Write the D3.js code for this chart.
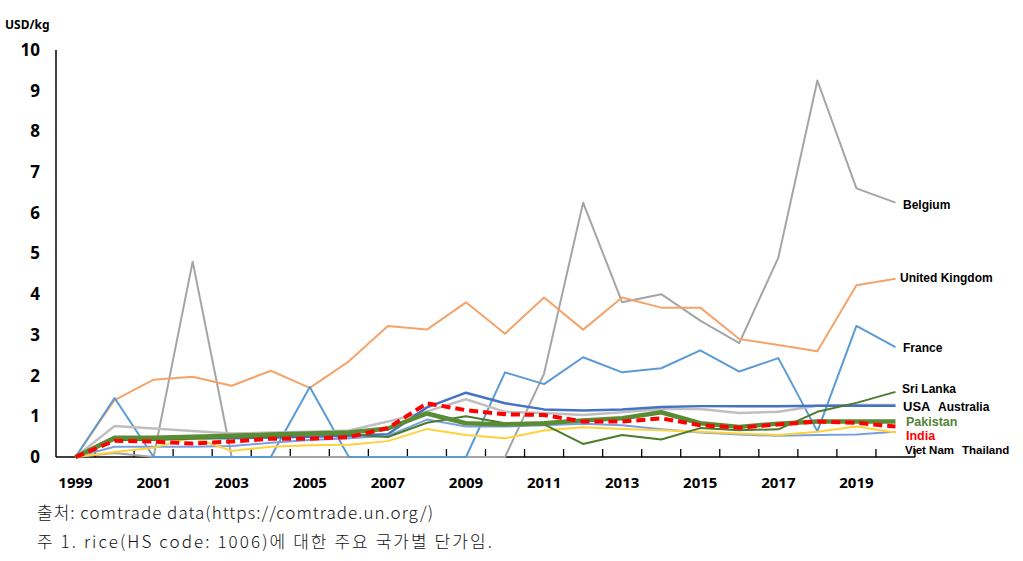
<!DOCTYPE html>
<html>
<head>
<meta charset="utf-8">
<script src="https://cdn.jsdelivr.net/npm/d3@7"></script>
<style>
  body { margin: 0; background: #fff; }
  svg { display: block; }
  .axis-label { font-family: "Noto Sans", "DejaVu Sans", sans-serif; font-weight: bold; fill: #000; }
  .series-label { font-family: "Liberation Sans", Arial, sans-serif; font-weight: bold; }
  .note { font-family: "Noto Sans CJK KR", "DejaVu Sans", sans-serif; font-size: 17px; font-weight: 300; fill: #111; }
</style>
</head>
<body>
<svg id="chart" width="1023" height="561"></svg>
<script>
const years = [1999, 2000, 2001, 2002, 2003, 2004, 2005, 2006, 2007, 2008, 2009, 2010,
  2011, 2012, 2013, 2014, 2015, 2016, 2017, 2018, 2019, 2020];
const yTicks = [0, 1, 2, 3, 4, 5, 6, 7, 8, 9, 10];

const belgium = [0, 0.1, 0, 4.8, 0, 0, 0, 0, 0, 0, 0, 0, 2.05, 6.25, 3.8, 4.0, 3.35, 2.8, 4.9, 9.25, 6.6, 6.25];
const uk = [0, 1.4, 1.9, 1.97, 1.75, 2.12, 1.7, 2.35, 3.22, 3.13, 3.8, 3.03, 3.92, 3.13, 3.92, 3.67, 3.67, 2.9, 2.75, 2.6, 4.22, 4.38];
const france = [0, 1.45, 0, 0, 0, 0, 1.72, 0, 0, 0, 0, 2.08, 1.79, 2.45, 2.08, 2.18, 2.62, 2.1, 2.43, 0.63, 3.22, 2.7];
const australia = [0, 0.76, 0.7, 0.64, 0.58, 0.6, 0.62, 0.65, 0.87, 1.12, 1.42, 1.11, 1.08, 1.03, 1.1, 1.18, 1.18, 1.08, 1.11, 1.26, 1.28, 1.28];
const usa = [0, 0.48, 0.46, 0.46, 0.46, 0.48, 0.5, 0.52, 0.56, 1.22, 1.58, 1.32, 1.17, 1.14, 1.17, 1.23, 1.25, 1.25, 1.25, 1.26, 1.26, 1.26];
const vietnam = [0, 0.25, 0.25, 0.25, 0.27, 0.35, 0.42, 0.46, 0.52, 0.92, 0.75, 0.75, 0.78, 0.82, 0.78, 0.68, 0.6, 0.55, 0.52, 0.54, 0.55, 0.62];
const thailand = [0, 0.12, 0.23, 0.48, 0.15, 0.25, 0.29, 0.3, 0.39, 0.69, 0.54, 0.46, 0.65, 0.73, 0.69, 0.66, 0.62, 0.58, 0.54, 0.62, 0.75, 0.6];
const srilanka = [0, 0.42, 0.42, 0.45, 0.48, 0.5, 0.55, 0.55, 0.49, 0.84, 1.0, 0.83, 0.8, 0.32, 0.54, 0.43, 0.71, 0.66, 0.68, 1.11, 1.33, 1.6];
const pakistan = [0, 0.47, 0.47, 0.5, 0.52, 0.55, 0.58, 0.6, 0.7, 1.07, 0.83, 0.8, 0.83, 0.9, 0.95, 1.1, 0.83, 0.74, 0.82, 0.87, 0.87, 0.87];
const india = [0, 0.4, 0.38, 0.33, 0.38, 0.45, 0.45, 0.49, 0.71, 1.32, 1.15, 1.05, 1.03, 0.87, 0.87, 0.95, 0.78, 0.72, 0.8, 0.87, 0.84, 0.75];

// draw order = excel series order
const series = [
  { name: 'Belgium', values: belgium, color: '#A5A5A5', width: 2 },
  { name: 'United Kingdom', values: uk, color: '#F4A46A', width: 2 },
  { name: 'France', values: france, color: '#5B9BD5', width: 2 },
  { name: 'Australia', values: australia, color: '#BFBFBF', width: 2.5 },
  { name: 'USA', values: usa, color: '#4472C4', width: 2.5 },
  { name: 'Viet Nam', values: vietnam, color: '#7BA0E0', width: 2 },
  { name: 'Thailand', values: thailand, color: '#FFD23A', width: 2 },
  { name: 'Sri Lanka', values: srilanka, color: '#4B7B2C', width: 2 },
  { name: 'Pakistan', values: pakistan, color: '#5A8C36', width: 4.5 },
  { name: 'India', values: india, color: '#FF0000', width: 4, dash: '9,5' },
];

// end labels: [text, x, value-position, color, size]
const labels = [
  ['Belgium', 903, 6.2, '#000', 12],
  ['United Kingdom', 900, 4.4, '#000', 12],
  ['France', 903, 2.68, '#000', 12],
  ['Sri Lanka', 902, 1.67, '#000', 12],
  ['USA', 903, 1.25, '#000', 13],
  ['Australia', 938, 1.23, '#000', 12],
  ['Pakistan', 906, 0.88, '#548235', 12.5],
  ['India', 906, 0.52, '#FF0000', 12.5],
  ['Viet Nam', 905, 0.17, '#000', 11.5],
  ['Thailand', 962, 0.17, '#000', 11.5],
];

const margin = { top: 50, right: 108, bottom: 104, left: 56 };
const width = 1023, height = 561;
const chart = d3.select('#chart');

const xScale = d3.scaleBand()
  .domain(years)
  .range([margin.left, width - margin.right])
  .paddingInner(0).paddingOuter(0);
const xc = (yr) => xScale(yr) + xScale.bandwidth() / 2;

const yScale = d3.scaleLinear()
  .domain([0, 10])
  .range([height - margin.bottom, margin.top]);

const y0 = yScale(0);

// y axis line
chart.append('line')
  .attr('x1', margin.left).attr('x2', margin.left)
  .attr('y1', yScale(10)).attr('y2', y0)
  .attr('stroke', '#000').attr('stroke-width', 1.5);

// x axis line + inner ticks at category boundaries
chart.append('line')
  .attr('x1', margin.left).attr('x2', width - margin.right)
  .attr('y1', y0).attr('y2', y0)
  .attr('stroke', '#000').attr('stroke-width', 1.5);

chart.append('g')
  .selectAll('line')
  .data(years)
  .join('line')
  .attr('x1', (d) => xScale(d) + xScale.bandwidth())
  .attr('x2', (d) => xScale(d) + xScale.bandwidth())
  .attr('y1', y0).attr('y2', y0 - 8)
  .attr('stroke', '#000').attr('stroke-width', 1.3);

// y tick labels
chart.append('g')
  .selectAll('text')
  .data(yTicks)
  .join('text')
  .attr('class', 'axis-label')
  .attr('x', 40)
  .attr('y', (d) => yScale(d))
  .attr('dy', '0.35em')
  .attr('text-anchor', 'end')
  .style('font-size', '17px')
  .text((d) => d);

// x tick labels (every other year)
chart.append('g')
  .selectAll('text')
  .data(years.filter((d, i) => i % 2 === 0))
  .join('text')
  .attr('class', 'axis-label')
  .attr('x', (d) => xc(d))
  .attr('y', y0 + 26)
  .attr('dy', '0.35em')
  .attr('text-anchor', 'middle')
  .style('font-size', '15px')
  .text((d) => d);

chart.append('text')
  .attr('class', 'axis-label')
  .attr('x', 5).attr('y', 25)
  .attr('dy', '0.35em')
  .style('font-size', '12px')
  .text('USD/kg');

// series lines
const line = d3.line()
  .x((d, i) => xc(years[i]))
  .y((d) => yScale(d));

chart.append('g')
  .selectAll('path')
  .data(series)
  .join('path')
  .attr('d', (s) => line(s.values))
  .attr('fill', 'none')
  .attr('stroke', (s) => s.color)
  .attr('stroke-width', (s) => s.width)
  .attr('stroke-dasharray', (s) => s.dash || null)
  .attr('stroke-linejoin', 'round');

// series labels
chart.append('g')
  .selectAll('text')
  .data(labels)
  .join('text')
  .attr('class', 'series-label')
  .attr('x', (d) => d[1])
  .attr('y', (d) => yScale(d[2]))
  .attr('dy', '0.35em')
  .attr('fill', (d) => d[3])
  .style('font-size', (d) => d[4] + 'px')
  .text((d) => d[0]);

// source notes
chart.append('text').attr('class', 'note')
  .attr('x', 37).attr('y', 513).attr('dy', '0.35em')
  .attr('textLength', 396).attr('lengthAdjust', 'spacing')
  .text('출처: comtrade data(https://comtrade.un.org/)');
chart.append('text').attr('class', 'note')
  .attr('x', 37).attr('y', 542).attr('dy', '0.35em')
  .attr('textLength', 455).attr('lengthAdjust', 'spacing')
  .text('주 1. rice(HS code: 1006)에 대한 주요 국가별 단가임.');
</script>
</body>
</html>
